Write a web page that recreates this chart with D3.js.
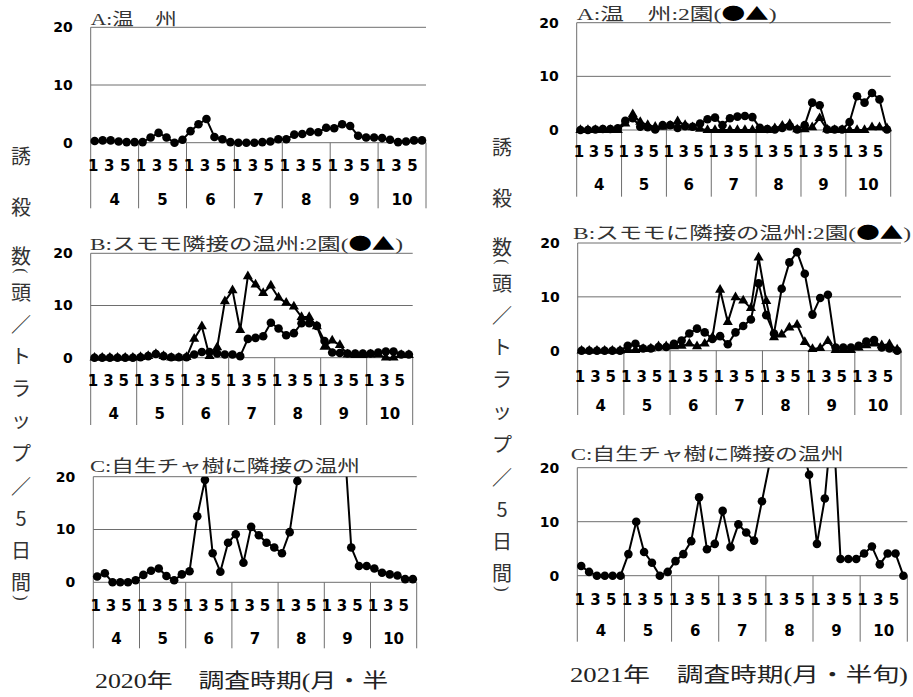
<!DOCTYPE html>
<html><head><meta charset="utf-8">
<script src="https://cdn.jsdelivr.net/npm/d3@7"></script>
<style>body{margin:0;background:#fff}svg{display:block}</style>
</head><body><svg id="c" width="913" height="697"></svg>
<script>
// ---------------- data ----------------
const months = ["4","5","6","7","8","9","10"];
const pentadLabels = ["1","","3","","5",""];
const yTicks = [0,10,20];

const a2020Circle = [0.3,0.4,0.4,0.2,0.1,0.1, 0.1,0.9,1.7,0.9,0.0,0.5, 2.0,3.2,4.1,1.0,0.6,0.1,
  0.0,0.0,0.0,0.1,0.2,0.6, 0.6,1.4,1.5,1.9,1.8,2.6, 2.5,3.2,2.9,1.2,0.9,0.9, 0.8,0.5,0.1,0.2,0.4,0.4];

const b2020Circle = [0,0,0,0,0,0, 0.1,0.3,0.7,0.3,0.1,0.1, 0.1,0.6,1.1,1.1,0.8,0.6,
  0.6,0.3,3.6,3.8,4.1,6.7, 5.6,4.3,4.7,6.6,6.6,6.1, 3.2,1.0,0.9,0.8,0.8,0.8, 0.8,1.0,1.2,1.2,0.6,0.6];
const b2020Triangle = [0,0,0,0,0,0, 0.1,0.3,0.7,0.3,0,0, 0.1,3.6,6.0,0.3,2.0,10.8,
  12.9,5.3,15.6,14.0,12.4,13.8, 11.5,10.5,9.8,7.8,7.8,6.0, 2.1,3.3,2.4,0.6,0.5,0.5, 0.6,0.6,0,0,0.5,0.5];

const c2020Circle = [1.1,1.7,0,0,0,0.4, 1.4,2.2,2.6,1.2,0.4,1.5, 2.1,12.5,19.4,5.5,2.0,7.5,
  9.1,3.7,10.5,8.9,7.5,6.6, 5.5,9.5,19.2,28,32,30, 30,28,29,6.6,3.1,3.1, 2.6,1.8,1.5,1.3,0.6,0.6];

const a2021Circle = [0,0,0.1,0.2,0.2,0.3, 1.7,2.2,0.6,0.5,0.1,0.9, 0.9,0.4,0.7,0.6,1.2,2.0,
  2.3,0.9,2.2,2.5,2.6,2.4, 0.4,0.2,0.1,0.4,0.7,0.1, 0.9,5.1,4.6,0.1,0.1,0.1, 1.5,6.3,5.1,6.9,5.7,0.1];
const a2021Triangle = [0,0,0,0,0,0, 1.2,2.9,1.5,0.9,0.6,0.6, 0.8,1.6,0.9,0.5,0.2,0,
  0,0,0,0,0,0, 0,0,0.3,0.8,1.1,0.1, 0.1,0.5,2.2,0.1,0,0, 0,0,0,0.5,0.5,0.3];

const b2021Circle = [0,0,0,0,0,0, 0.9,1.3,0.4,0.4,0.7,0.7, 1.3,1.9,3.2,4.1,3.4,2.2,
  2.7,1.2,3.4,4.6,5.8,12.5, 6.6,3.2,11.5,16.4,18.3,14.3, 6.7,9.8,10.4,0.6,0.6,0.6, 0.9,1.7,2.0,0.6,0.4,0.0];
const b2021Triangle = [0,0,0,0,0,0, 0.1,0.1,0.3,0.4,0.8,0.8, 0.8,0.9,1.3,0.8,1.3,2.5,
  11.3,5.3,9.9,9.3,7.9,17.3, 9.2,2.5,3.0,4.3,4.8,1.6, 0.3,0.5,1.8,0.1,0.1,0.1, 0.6,1.0,1.3,1.0,1.2,0.2];

const c2021Circle = [1.8,0.7,0,0,0,0, 4.0,10.0,4.4,2.4,0,0.7, 2.7,4.0,6.4,14.5,4.9,5.9,
  12.0,5.3,9.5,8.0,6.5,13.8, 21,28,32,30,25,18.7, 5.9,14.3,30,3.1,3.1,3.1, 4.1,5.4,2.1,4.1,4.1,0];

const titles = ["A:温　州","B:スモモ隣接の温州:2園","C:自生チャ樹に隣接の温州",
                "A:温　州:2園","B:スモモに隣接の温州:2園","C:自生チャ樹に隣接の温州"];
const legendMark = "(●▲)";
const yTitleChars = ["誘","殺","数","(","頭","／","ト","ラ","ッ","プ","／","5","日","間",")"];
const captions = ["2020年　調査時期(月・半","2021年　調査時期(月・半旬)"];

// ---------------- layout ----------------
const NUM = "'DejaVu Sans', Verdana, sans-serif";
const JP = "'Liberation Serif', 'Noto Sans CJK JP', serif";
const CJK = "'Noto Sans CJK JP', sans-serif";
const GRID = "#6e6e6e";

const panels = [
  {title:titles[0], leg:false, series:[{v:a2020Circle,m:"c"}], g:{x0:90.7,x1:426,yT:27.3,y0:142.7,tY:165.7,mY:199.3,bot:208.3}, tb:{x:90.7,w:86,b:25}},
  {title:titles[1], leg:true, series:[{v:b2020Triangle,m:"t"},{v:b2020Circle,m:"c"}], g:{x0:90.7,x1:412.7,yT:253.3,y0:357.7,tY:380.3,mY:414,bot:425}, tb:{x:90,w:313,b:250}},
  {title:titles[2], leg:false, series:[{v:c2020Circle,m:"c"}], g:{x0:93.3,x1:416.7,yT:476.7,y0:582.3,tY:605.7,mY:639,bot:648.3}, tb:{x:90,w:270,b:472}},
  {title:titles[3], leg:true, series:[{v:a2021Triangle,m:"t"},{v:a2021Circle,m:"c"}], g:{x0:576.7,x1:890.7,yT:22.7,y0:130,tY:151.7,mY:184.3,bot:196.7}, tb:{x:576.7,w:200,b:20}},
  {title:titles[4], leg:true, series:[{v:b2021Triangle,m:"t"},{v:b2021Circle,m:"c"}], g:{x0:577.7,x1:901,yT:243,y0:350.7,tY:376.7,mY:406,bot:415}, tb:{x:573,w:338,b:239}},
  {title:titles[5], leg:false, series:[{v:c2021Circle,m:"c"}], g:{x0:577.3,x1:907.3,yT:467.7,y0:575.7,tY:600,mY:631,bot:641.7}, tb:{x:570.7,w:273,b:460}},
];

const svg = d3.select("#c");
svg.append("rect").attr("width",913).attr("height",697).attr("fill","#fff");
const defs = svg.append("defs");

panels.forEach((p, pi) => {
  const g = p.g;
  const n = months.length * 6;
  const x = d3.scaleBand().domain(d3.range(n)).range([g.x0, g.x1]);
  const xm = d3.scaleBand().domain(months).range([g.x0, g.x1]);
  const y = d3.scaleLinear().domain([0,20]).range([g.y0, g.yT]);
  const root = svg.append("g");

  root.selectAll(".grid").data(yTicks).join("line")
    .attr("x1", g.x0).attr("x2", g.x1)
    .attr("y1", d => y(d)).attr("y2", d => y(d))
    .attr("stroke", GRID).attr("stroke-width", 1);
  root.append("line").attr("x1", g.x0).attr("x2", g.x0).attr("y1", y(20)).attr("y2", g.bot)
    .attr("stroke", GRID).attr("stroke-width", 1);
  months.forEach(m => {
    const xx = xm(m) + xm.bandwidth();
    root.append("line").attr("x1", xx).attr("x2", xx).attr("y1", y(0)).attr("y2", g.bot)
      .attr("stroke", GRID).attr("stroke-width", 1);
  });

  const ya = root.append("g").attr("transform", `translate(${g.x0},0)`)
    .call(d3.axisLeft(y).tickValues(yTicks).tickSize(0).tickPadding(18).tickFormat(d3.format("d")));
  ya.select(".domain").remove();
  ya.selectAll("text").attr("font-family", NUM).attr("font-weight", "bold").attr("font-size", 14).attr("fill", "#000");

  const xa = root.append("g").attr("transform", `translate(-1.5,${g.tY})`)
    .call(d3.axisBottom(x).tickSize(0).tickFormat(i => pentadLabels[i % 6]));
  xa.select(".domain").remove();
  xa.selectAll("text").attr("y", 0).attr("dy", "0.36em")
    .attr("font-family", NUM).attr("font-weight", "bold").attr("font-size", 15).attr("fill", "#000");

  const ma = root.append("g").attr("transform", `translate(0,${g.mY})`)
    .call(d3.axisBottom(xm).tickSize(0));
  ma.select(".domain").remove();
  ma.selectAll("text").attr("y", 0).attr("dy", "0.36em")
    .attr("font-family", NUM).attr("font-weight", "bold").attr("font-size", 15).attr("fill", "#000");

  const cid = "clip" + pi;
  defs.append("clipPath").attr("id", cid).append("rect")
    .attr("x", g.x0 - 10).attr("y", g.yT).attr("width", g.x1 - g.x0 + 20).attr("height", g.bot - g.yT);
  const plot = root.append("g").attr("clip-path", `url(#${cid})`);

  const line = d3.line().x((d, i) => x(i) + x.bandwidth() / 2).y(d => y(d));
  p.series.forEach(s => {
    plot.append("path").datum(s.v).attr("d", line)
      .attr("fill", "none").attr("stroke", "#000").attr("stroke-width", 2).attr("stroke-linejoin", "round");
    if (s.m === "c") {
      plot.selectAll(null).data(s.v).join("circle")
        .attr("cx", (d, i) => x(i) + x.bandwidth() / 2).attr("cy", d => y(d)).attr("r", 4.3).attr("fill", "#000");
    } else {
      const sym = d3.symbol().type(d3.symbolTriangle).size(44);
      plot.selectAll(null).data(s.v).join("path").attr("d", sym)
        .attr("transform", (d, i) => `translate(${x(i) + x.bandwidth() / 2},${y(d)})`).attr("fill", "#000");
    }
  });

  const t = root.append("text").attr("x", p.tb.x).attr("y", p.tb.b)
    .attr("font-family", JP).attr("font-size", 17).attr("fill", "#333")
    .attr("textLength", p.tb.w).attr("lengthAdjust", "spacingAndGlyphs");
  t.append("tspan").text(p.title);
  if (p.leg) {
    t.append("tspan").text(legendMark.slice(0,1));
    t.append("tspan").attr("font-family", CJK).attr("fill", "#000").text(legendMark.slice(1,3));
    t.append("tspan").text(legendMark.slice(3));
  }
});

// vertical y titles (parentheses rotated as in vertical writing)
const yOffsets = [0,51,100,116,136,168,200,232,264,297,330,362,394,426,443];
[[21,155],[502,146]].forEach(([cx, cy0]) => {
  svg.append("g").selectAll("text").data(yTitleChars).join("text")
    .attr("transform", (d, i) => {
      const yy = cy0 + yOffsets[i];
      return (d === "(" || d === ")") ? `translate(${cx},${yy}) rotate(90)` : `translate(${cx},${yy})`;
    })
    .attr("text-anchor", "middle").attr("dominant-baseline", "central")
    .attr("font-family", d => (d === "(" || d === ")") ? "'Liberation Serif', serif" : CJK)
    .attr("font-size", d => (d === "(" || d === ")") ? 16 : 20).attr("fill", "#333")
    .text(d => d);
});

// captions
[[95,688,293],[570,682,338]].forEach(([cx, cy, w], i) => {
  svg.append("text").attr("x", cx).attr("y", cy).text(captions[i])
    .attr("font-family", JP).attr("font-size", 20).attr("fill", "#222")
    .attr("textLength", w).attr("lengthAdjust", "spacingAndGlyphs");
});
</script></body></html>
